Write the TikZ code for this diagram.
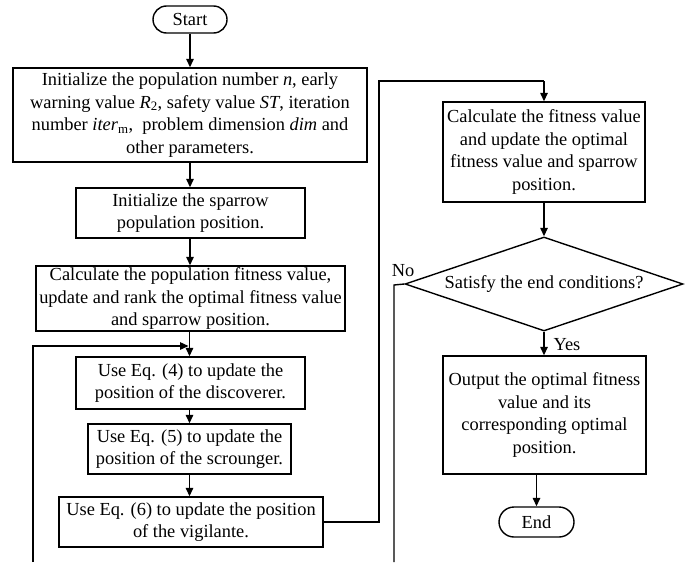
\documentclass[tikz,border=0pt]{standalone}
\usepackage{fontspec}
\setmainfont{Liberation Serif}
\usetikzlibrary{shapes.geometric,arrows.meta}
\begin{document}
\begin{tikzpicture}[x=1pt,y=-1pt,
  base/.style={draw=black,line width=1.4pt,font=\fontsize{18.4}{22.7}\selectfont,align=center,inner sep=0pt},
  procbox/.style={base,rectangle,minimum width=#1},
  decbox/.style={base,diamond,aspect=2.96,minimum width=278pt,minimum height=94pt},
  arr/.style={line width=1.4pt,-{Triangle[length=8.5pt,width=7.5pt]}},
  ln/.style={line width=1.4pt}]
\useasboundingbox (0,0) rectangle (687,562);

% left column
\node[base,rounded corners=13.5pt,minimum width=74pt,minimum height=27pt] (start) at (190,19.5) {Start};
\node[procbox=354pt,minimum height=94pt] (b1) at (190,115)
  {Initialize the population number \textit{n}, early\\
   warning value \textit{R}\textsubscript{2}, safety value \textit{ST}, iteration\\
   number \textit{iter}\textsubscript{m},\ \ problem dimension \textit{dim} and\\
   other parameters.};
\node[procbox=229pt,minimum height=50pt] (b2) at (190.5,213)
  {Initialize the sparrow\\ population position.};
\node[procbox=309pt,minimum height=65pt] (b3) at (190.5,298.5)
  {Calculate the population fitness value,\\
   update and rank the optimal fitness value\\
   and sparrow position.};
\node[procbox=229pt,minimum height=52pt] (b4) at (190.5,383)
  {Use Eq. (4) to update the\\ position of the discoverer.};
\node[procbox=203pt,minimum height=50pt] (b5) at (189.5,449)
  {Use Eq. (5) to update the\\ position of the scrounger.};
\node[procbox=264pt,minimum height=50pt] (b6) at (191,522)
  {Use Eq. (6) to update the position\\ of the vigilante.};

% right column
\node[procbox=202pt,minimum height=100pt] (rb) at (544,152)
  {Calculate the fitness value\\ and update the optimal\\ fitness value and sparrow\\ position.};
\node[decbox] (dec) at (544,284) {Satisfy the end conditions?};
\node[procbox=203pt,minimum height=118pt] (out) at (544.5,415)
  {Output the optimal fitness\\ value and its\\ corresponding optimal\\ position.};
\node[base,rounded corners=15pt,minimum width=75pt,minimum height=30pt] (end) at (536.5,522) {End};

% junction points of the connectors
\coordinate (jn) at (189.5,346);
\coordinate (loopbot) at (33,562);
\coordinate (upB) at (379,522);
\coordinate (upT) at (379,81);
\coordinate (topR) at (544,81);
\coordinate (noC) at (394,285);
\coordinate (noBot) at (394,562);

% main flow
\draw[arr] (start) -- (start.south |- b1.north);
\draw[arr] (b1.south -| start) -- (b2.north -| start);
\draw[arr] (b2.south -| start) -- (b3.north -| start);
\draw[arr] (b3.south -| jn) -- (b4.north -| jn);
\draw[arr] (b4.south -| jn) -- (b5.north -| jn);
\draw[arr] (b5.south -| jn) -- (b6.north -| jn);
\draw[arr] (loopbot) |- ([xshift=-1pt]jn);
\draw[ln] (b6.east |- upB) -- (upB) -- (upT) -- (topR);
\draw[arr] (topR) -- (rb.north);
\draw[arr] (rb.south) -- (dec.north);
\draw[arr] (dec.south) -- (out.north -| dec.south);
\draw[arr] (out.south -| end) -- (end.north);
\draw[ln] (dec.west) -- (noC) -- (noBot);

% branch labels
\node[font=\fontsize{18.4}{20}\selectfont,inner sep=0pt] (no) at (403,271) {No};
\node[font=\fontsize{18.4}{20}\selectfont,inner sep=0pt] (yes) at (567,345) {Yes};
\end{tikzpicture}
\end{document}
